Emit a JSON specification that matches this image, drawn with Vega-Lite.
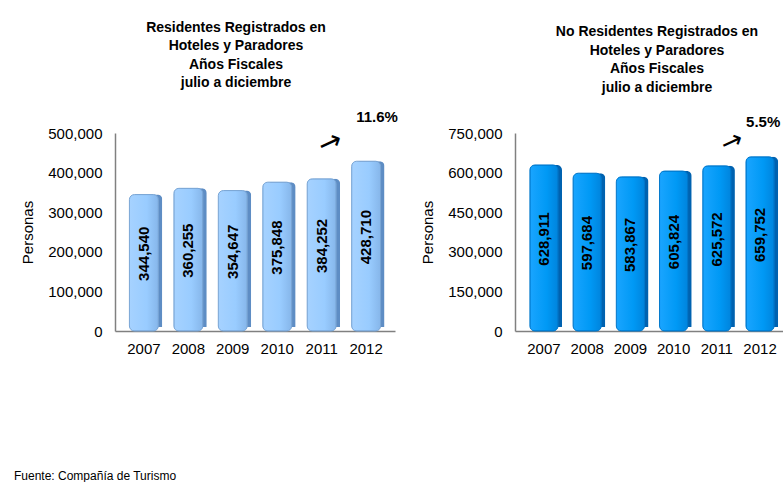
{
  "$schema": "https://vega.github.io/schema/vega-lite/v6.json",
  "padding": {"left": 14, "top": 20, "right": 0, "bottom": 0},
  "background": "white",
  "bounds": "flush",
  "spacing": 120,
  "title": {
    "text": "Fuente: Compañía de Turismo",
    "orient": "bottom",
    "anchor": "start",
    "frame": "group",
    "font": "Liberation Sans",
    "fontSize": 12,
    "fontWeight": "normal",
    "color": "#000000",
    "offset": 115,
    "dx": -101
  },
  "config": {
    "view": {"stroke": null},
    "font": "Liberation Sans",
    "axis": {
      "domainColor": "#808080",
      "domainWidth": 1.5,
      "ticks": false,
      "grid": false,
      "labelOverlap": false,
      "labelFont": "Liberation Sans",
      "labelFontSize": 15,
      "labelColor": "#000000",
      "titleFont": "Liberation Sans",
      "titleFontSize": 15,
      "titleFontWeight": "normal",
      "titleColor": "#000000"
    },
    "title": {
      "font": "Liberation Sans",
      "fontSize": 14,
      "fontWeight": "bold",
      "color": "#000000",
      "lineHeight": 18.5,
      "anchor": "middle"
    }
  },
  "hconcat": [
    {
      "title": {
        "text": ["Residentes Registrados en", "Hoteles y Paradores", "Años Fiscales", "julio a  diciembre"],
        "dx": -19,
        "offset": 20
      },
      "width": 280,
      "height": 198,
      "data": {"values": [
        {"year": "2007", "value": 344540},
        {"year": "2008", "value": 360255},
        {"year": "2009", "value": 354647},
        {"year": "2010", "value": 375848},
        {"year": "2011", "value": 384252},
        {"year": "2012", "value": 428710}
      ]},
      "encoding": {
        "x": {"field": "year", "type": "nominal", "scale": {"paddingInner": 0.26, "paddingOuter": 0.28},
              "axis": {"title": null, "labelAngle": 0, "labelPadding": 10}}
      },
      "layer": [
        {
          "mark": {"type": "bar", "color": "#5E8DC4", "xOffset": 4, "yOffset": -4, "cornerRadius": 5, "width": {"band": 0.88}},
          "encoding": {
            "y": {"field": "value", "type": "quantitative",
                  "scale": {"domain": [0, 500000], "nice": false},
                  "axis": {"title": "Personas", "values": [0, 100000, 200000, 300000, 400000, 500000], "format": ",d", "labelPadding": 13, "titlePadding": 12, "labelOverlap": false, "labelBound": false}}
          }
        },
        {
          "mark": {"type": "bar", "cornerRadius": 5, "width": {"band": 0.88}, "stroke": "#7AA6D6", "strokeWidth": 1,
                   "color": {"gradient": "linear", "x1": 0, "x2": 1, "y1": 0, "y2": 0,
                             "stops": [{"offset": 0, "color": "#A6D2FF"}, {"offset": 0.6, "color": "#99CCFF"}, {"offset": 1, "color": "#86B6EA"}]}},
          "encoding": {"y": {"field": "value", "type": "quantitative",
                  "axis": {"title": "Personas", "values": [0, 100000, 200000, 300000, 400000, 500000], "format": ",d", "labelPadding": 13, "titlePadding": 12, "labelOverlap": false, "labelBound": false}}}
        },
        {
          "transform": [{"calculate": "datum.value / 2", "as": "mid"}],
          "mark": {"type": "text", "angle": 270, "font": "Liberation Sans", "fontSize": 15, "fontWeight": "bold", "color": "#000000", "baseline": "middle", "align": "center", "dx": 9},
          "encoding": {
            "y": {"field": "mid", "type": "quantitative",
                  "axis": {"title": "Personas", "values": [0, 100000, 200000, 300000, 400000, 500000], "format": ",d", "labelPadding": 13, "titlePadding": 12, "labelOverlap": false, "labelBound": false}},
            "text": {"field": "value", "type": "quantitative", "format": ",d"}
          }
        },
        {
          "data": {"values": [{"pct": "11.6%"}]},
          "mark": {"type": "text", "font": "Liberation Sans", "fontSize": 15, "fontWeight": "bold", "color": "#000000", "baseline": "middle", "align": "center", "dx": 11},
          "encoding": {
            "x": {"datum": "2012"},
            "y": {"datum": 540000, "type": "quantitative",
                  "axis": {"title": "Personas", "values": [0, 100000, 200000, 300000, 400000, 500000], "format": ",d", "labelPadding": 13, "titlePadding": 12, "labelOverlap": false, "labelBound": false}},
            "text": {"field": "pct"}
          }
        },
        {
          "data": {"values": [{"arrow": "→"}]},
          "mark": {"type": "text", "font": "DejaVu Sans", "fontSize": 28, "fontWeight": "normal", "color": "#000000", "baseline": "middle", "align": "center", "angle": 335, "dx": 7, "dy": 6},
          "encoding": {
            "x": {"datum": "2011"},
            "y": {"datum": 480000, "type": "quantitative",
                  "axis": {"title": "Personas", "values": [0, 100000, 200000, 300000, 400000, 500000], "format": ",d", "labelPadding": 13, "titlePadding": 12, "labelOverlap": false, "labelBound": false}},
            "text": {"field": "arrow"}
          }
        }
      ]
    },
    {
      "title": {
        "text": ["No Residentes Registrados en", "Hoteles y Paradores", "Años Fiscales", "julio a diciembre"],
        "dx": 5,
        "offset": 20
      },
      "width": 274,
      "height": 198,
      "data": {"values": [
        {"year": "2007", "value": 628911},
        {"year": "2008", "value": 597684},
        {"year": "2009", "value": 583867},
        {"year": "2010", "value": 605824},
        {"year": "2011", "value": 625572},
        {"year": "2012", "value": 659752}
      ]},
      "encoding": {
        "x": {"field": "year", "type": "nominal", "scale": {"paddingInner": 0.26, "paddingOuter": 0.3},
              "axis": {"title": null, "labelAngle": 0, "labelPadding": 10}}
      },
      "layer": [
        {
          "mark": {"type": "bar", "color": "#0062B0", "xOffset": 4, "yOffset": -4, "cornerRadius": 5, "width": {"band": 0.88}},
          "encoding": {
            "y": {"field": "value", "type": "quantitative",
                  "scale": {"domain": [0, 750000], "nice": false},
                  "axis": {"title": "Personas", "values": [0, 150000, 300000, 450000, 600000, 750000], "format": ",d", "labelPadding": 13, "titlePadding": 12, "labelOverlap": false, "labelBound": false}}
          }
        },
        {
          "mark": {"type": "bar", "cornerRadius": 5, "width": {"band": 0.88}, "stroke": "#0078CC", "strokeWidth": 1,
                   "color": {"gradient": "linear", "x1": 0, "x2": 1, "y1": 0, "y2": 0,
                             "stops": [{"offset": 0, "color": "#1AA5FF"}, {"offset": 0.6, "color": "#0099F5"}, {"offset": 1, "color": "#0084DD"}]}},
          "encoding": {"y": {"field": "value", "type": "quantitative",
                  "axis": {"title": "Personas", "values": [0, 150000, 300000, 450000, 600000, 750000], "format": ",d", "labelPadding": 13, "titlePadding": 12, "labelOverlap": false, "labelBound": false}}}
        },
        {
          "transform": [{"calculate": "datum.value / 2", "as": "mid"}],
          "mark": {"type": "text", "angle": 270, "font": "Liberation Sans", "fontSize": 15, "fontWeight": "bold", "color": "#000000", "baseline": "middle", "align": "center", "dx": 9},
          "encoding": {
            "y": {"field": "mid", "type": "quantitative",
                  "axis": {"title": "Personas", "values": [0, 150000, 300000, 450000, 600000, 750000], "format": ",d", "labelPadding": 13, "titlePadding": 12, "labelOverlap": false, "labelBound": false}},
            "text": {"field": "value", "type": "quantitative", "format": ",d"}
          }
        },
        {
          "data": {"values": [{"pct": "5.5%"}]},
          "mark": {"type": "text", "font": "Liberation Sans", "fontSize": 15, "fontWeight": "bold", "color": "#000000", "baseline": "middle", "align": "left", "dx": -14},
          "encoding": {
            "x": {"datum": "2012"},
            "y": {"datum": 792000, "type": "quantitative",
                  "axis": {"title": "Personas", "values": [0, 150000, 300000, 450000, 600000, 750000], "format": ",d", "labelPadding": 13, "titlePadding": 12, "labelOverlap": false, "labelBound": false}},
            "text": {"field": "pct"}
          }
        },
        {
          "data": {"values": [{"arrow": "→"}]},
          "mark": {"type": "text", "font": "DejaVu Sans", "fontSize": 26, "fontWeight": "normal", "color": "#000000", "baseline": "middle", "align": "center", "angle": 335, "dx": 13, "dy": 8},
          "encoding": {
            "x": {"datum": "2011"},
            "y": {"datum": 723000, "type": "quantitative",
                  "axis": {"title": "Personas", "values": [0, 150000, 300000, 450000, 600000, 750000], "format": ",d", "labelPadding": 13, "titlePadding": 12, "labelOverlap": false, "labelBound": false}},
            "text": {"field": "arrow"}
          }
        }
      ]
    }
  ]
}
